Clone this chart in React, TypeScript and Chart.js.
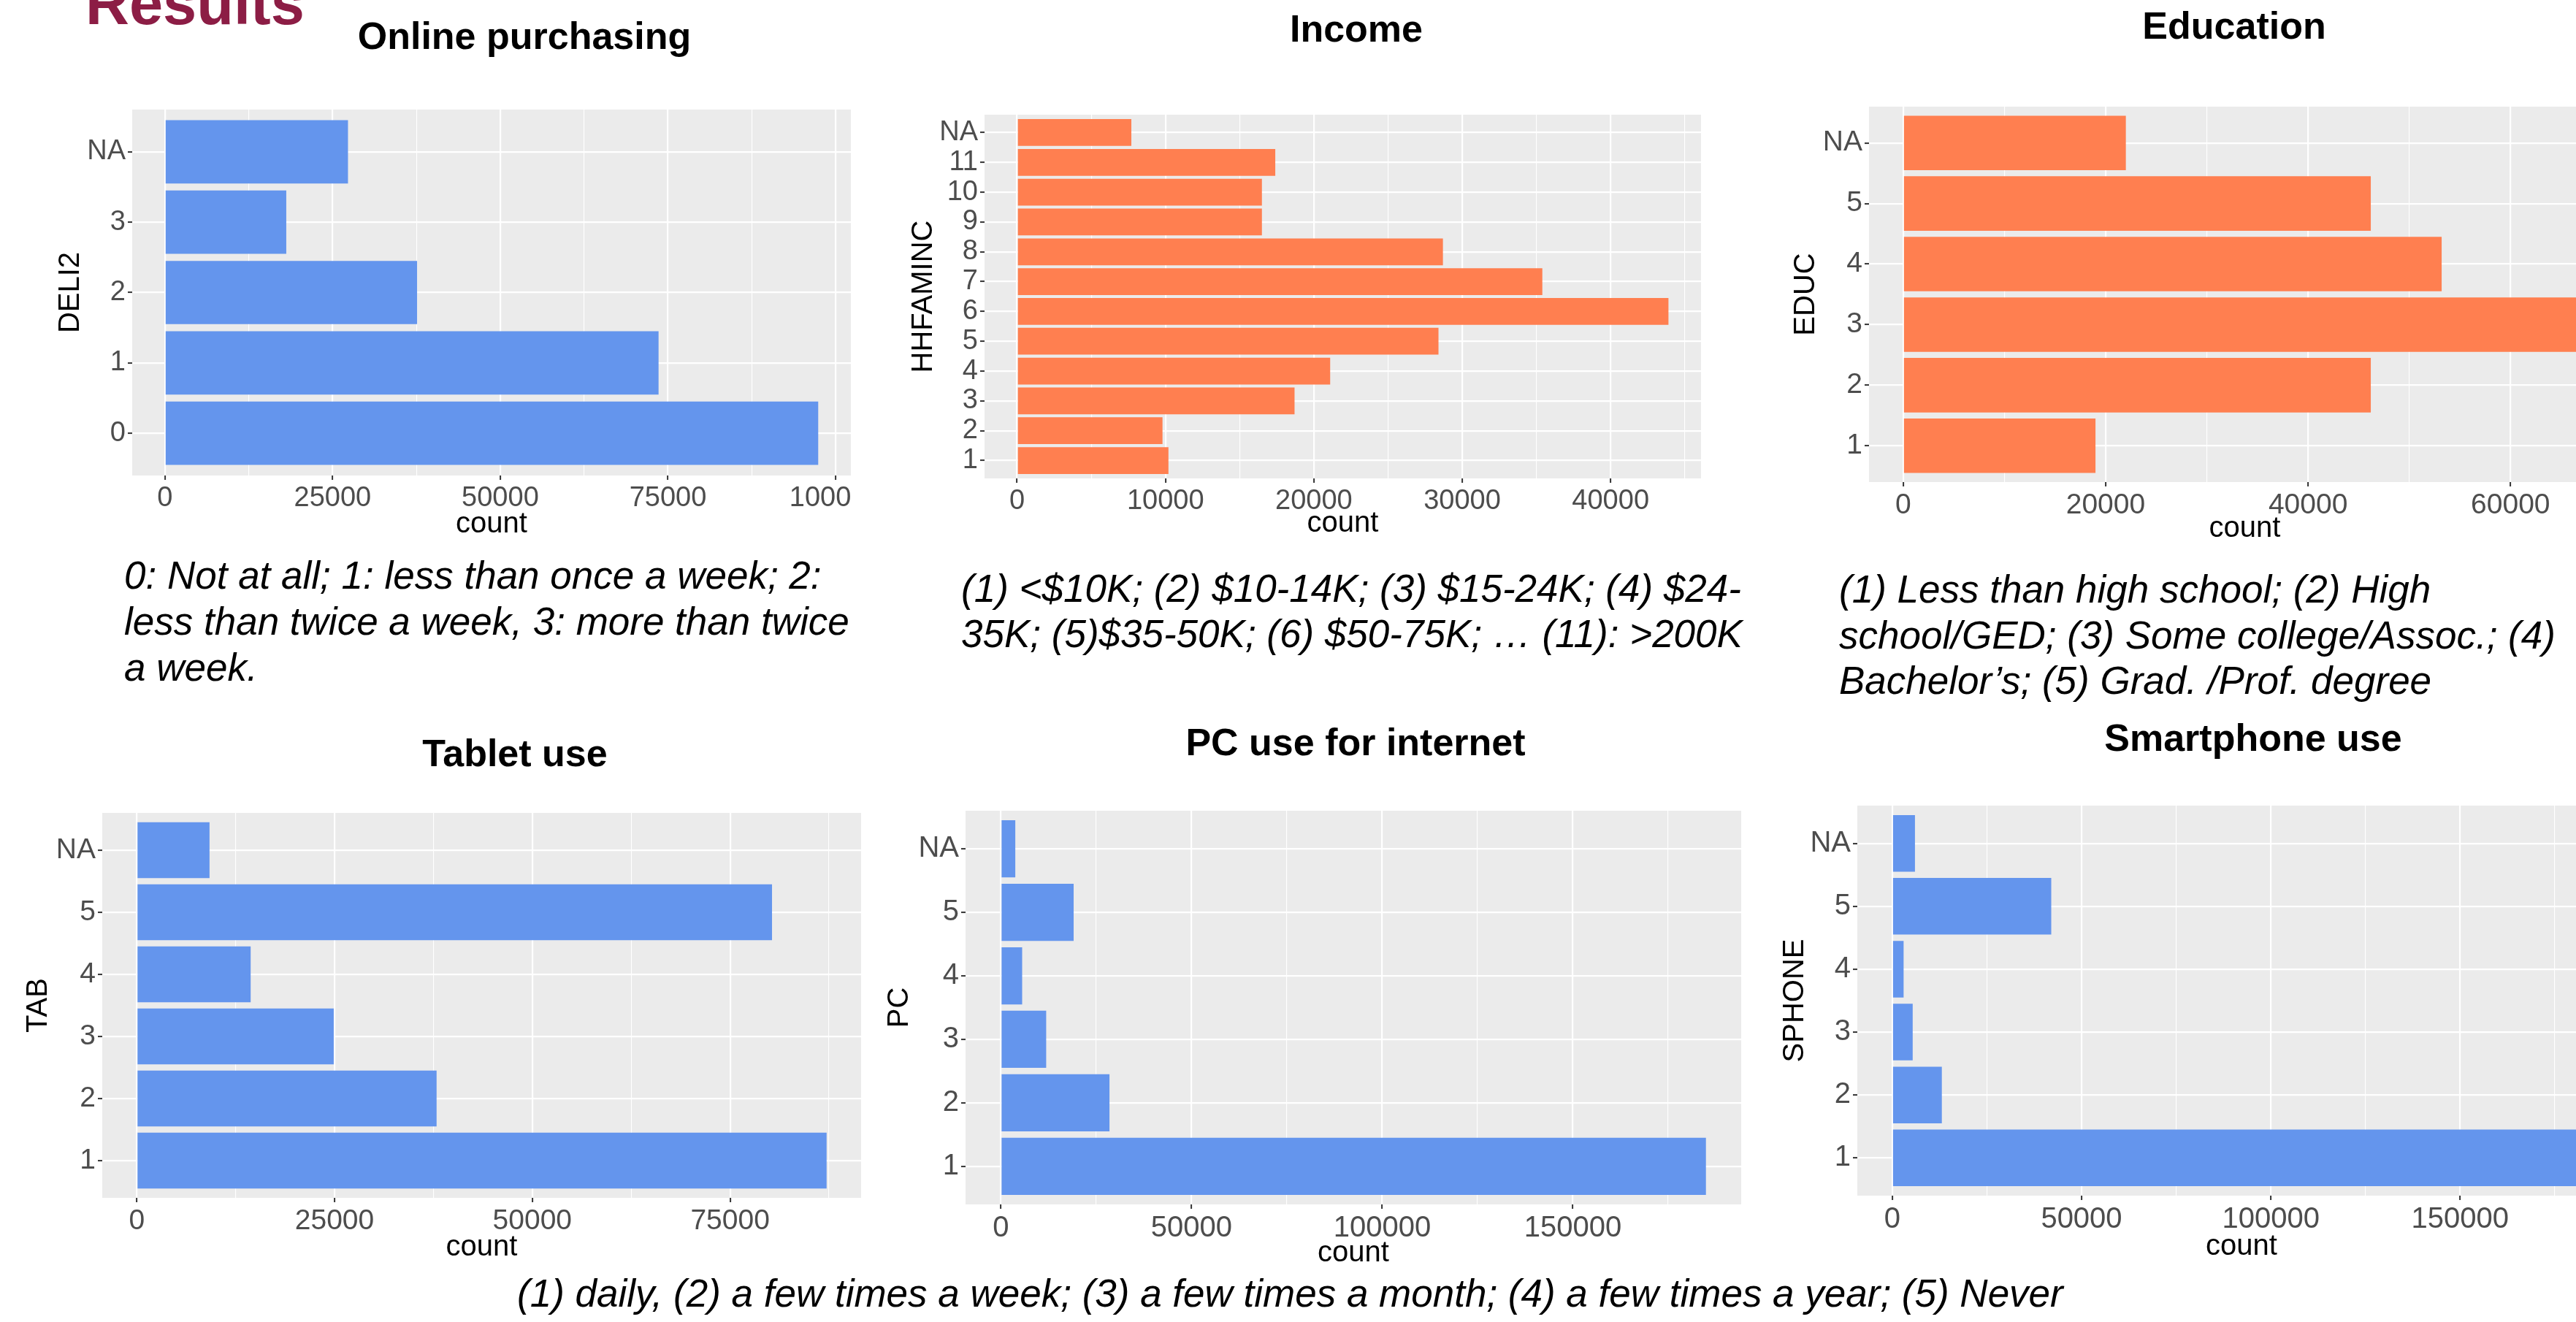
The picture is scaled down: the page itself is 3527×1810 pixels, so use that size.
import React, { useEffect, useRef } from 'react';
import { Chart, registerables } from 'chart.js';

Chart.register(...registerables);

// ---------------- data ----------------
const deliCategories = ['0', '1', '2', '3', 'NA'];
const deliCounts = [97400, 73600, 37600, 18100, 27300];
const deliTicks = [0, 25000, 50000, 75000, 100000];

const incomeCategories = ['1', '2', '3', '4', '5', '6', '7', '8', '9', '10', '11', 'NA'];
const incomeCounts = [10200, 9800, 18700, 21100, 28400, 43900, 35400, 28700, 16500, 16500, 17400, 7700];
const incomeTicks = [0, 10000, 20000, 30000, 40000];

const educCategories = ['1', '2', '3', '4', '5', 'NA'];
const educCounts = [19000, 46200, 67500, 53200, 46200, 22000];
const educTicks = [0, 20000, 40000, 60000];

const tabCategories = ['1', '2', '3', '4', '5', 'NA'];
const tabCounts = [87200, 37900, 24900, 14400, 80300, 9200];
const tabTicks = [0, 25000, 50000, 75000];

const pcCategories = ['1', '2', '3', '4', '5', 'NA'];
const pcCounts = [184900, 28500, 11900, 5600, 19100, 3800];
const pcTicks = [0, 50000, 100000, 150000];

const phoneCategories = ['1', '2', '3', '4', '5', 'NA'];
const phoneCounts = [184500, 13100, 5400, 3000, 42000, 6000];
const phoneTicks = [0, 50000, 100000, 150000];

const BLUE = '#6495ED';
const CORAL = '#FF7F50';
const FONT = "'Liberation Sans', Arial, Helvetica, sans-serif";

const panelBg = {
  id: 'panelBg',
  beforeDraw(chart: any) {
    const { ctx, chartArea } = chart;
    if (!chartArea) return;
    ctx.save();
    ctx.fillStyle = '#EBEBEB';
    ctx.fillRect(chartArea.left, chartArea.top, chartArea.right - chartArea.left, chartArea.bottom - chartArea.top);
    ctx.restore();
  },
};

type Spec = {
  axisTitle: string;
  categories: string[];
  counts: number[];
  ticks: number[];
  color: string;
  left: number;
  right: number;
  top: number;
  bottom: number;
  yTitleX: number;
  countBaseline: number;
  tickFont: number;
  clipRight?: number;
};

function HBar({ spec }: { spec: Spec }) {
  const ref = useRef<HTMLCanvasElement | null>(null);
  const padTop = 40;
  const padRight = 60;
  const canvasLeft = Math.round(spec.yTitleX - 24);
  const canvasTop = spec.top - padTop;
  const canvasBottom = Math.round(spec.countBaseline + 12);
  const width = spec.right + padRight - canvasLeft;
  const height = canvasBottom - canvasTop;
  const yAxisW = spec.left - canvasLeft;
  const xAxisH = canvasBottom - spec.bottom;
  const clipW = spec.clipRight ? spec.clipRight - canvasLeft : width;

  useEffect(() => {
    if (!ref.current) return;
    const maxV = Math.max(...spec.counts);
    const xMin = -0.05 * maxV;
    const xMax = 1.05 * maxV;
    const step = spec.ticks[1] - spec.ticks[0];
    const minors = spec.ticks.map((t) => t + step / 2).filter((v) => v > xMin && v < xMax);
    const allTicks = [...spec.ticks, ...minors].sort((a, b) => a - b);
    const isMajor = (v: number) => spec.ticks.includes(v);
    const n = spec.categories.length;

    const chart = new Chart(ref.current, {
      type: 'bar',
      data: {
        datasets: [
          {
            data: spec.counts.map((c, i) => ({ x: c, y: i + 1 })),
            backgroundColor: spec.color,
            borderWidth: 0,
            barPercentage: 0.9,
            categoryPercentage: 1,
          },
        ],
      },
      options: {
        indexAxis: 'y',
        animation: false,
        responsive: false,
        maintainAspectRatio: false,
        layout: { padding: { top: padTop, right: padRight, left: 0, bottom: 0 } },
        plugins: { legend: { display: false }, tooltip: { enabled: false }, title: { display: false } },
        scales: {
          x: {
            type: 'linear',
            min: xMin,
            max: xMax,
            bounds: 'data',
            offset: false,
            afterBuildTicks: (s: any) => {
              s.ticks = allTicks.map((v) => ({ value: v }));
            },
            afterFit: (s: any) => {
              s.height = xAxisH;
            },
            ticks: {
              autoSkip: false,
              maxRotation: 0,
              minRotation: 0,
              padding: 3,
              color: '#4D4D4D',
              font: { family: FONT, size: spec.tickFont },
              callback: (v: any) => (isMajor(Number(v)) ? String(v) : ''),
            },
            grid: {
              color: '#FFFFFF',
              lineWidth: (ctx: any) => (ctx.tick && isMajor(ctx.tick.value) ? 2.2 : 1.1),
              drawTicks: true,
              tickLength: 6,
              tickWidth: 2,
              tickColor: (ctx: any) => (ctx.tick && isMajor(ctx.tick.value) ? '#333333' : 'rgba(0,0,0,0)'),
              offset: false,
            },
            border: { display: false },
            title: { display: true, text: 'count', color: '#000000', font: { family: FONT, size: 40 }, padding: 0 },
          },
          y: {
            type: 'linear',
            min: 0.4,
            max: n + 0.6,
            bounds: 'data',
            offset: false,
            afterBuildTicks: (s: any) => {
              s.ticks = spec.categories.map((_, i) => ({ value: i + 1 }));
            },
            afterFit: (s: any) => {
              s.width = yAxisW;
            },
            ticks: {
              autoSkip: false,
              padding: 3,
              color: '#4D4D4D',
              font: { family: FONT, size: spec.tickFont },
              callback: (v: any) => spec.categories[Number(v) - 1] ?? '',
            },
            grid: {
              color: '#FFFFFF',
              lineWidth: 2.2,
              drawTicks: true,
              tickLength: 6,
              tickWidth: 2,
              tickColor: '#333333',
              offset: false,
            },
            border: { display: false },
            title: { display: true, text: spec.axisTitle, color: '#000000', font: { family: FONT, size: 40 }, padding: 0 },
          },
        },
      } as any,
      plugins: [panelBg],
    });
    return () => chart.destroy();
  }, []);

  return (
    <div style={{ position: 'absolute', left: canvasLeft, top: canvasTop, width: clipW, height, overflow: 'hidden' }}>
      <canvas ref={ref} width={width} height={height} style={{ width, height, display: 'block' }} />
    </div>
  );
}

const specs: Spec[] = [
  { axisTitle: 'DELI2', categories: deliCategories, counts: deliCounts, ticks: deliTicks, color: BLUE, left: 181, right: 1165, top: 150, bottom: 651, yTitleX: 97, countBaseline: 730, tickFont: 38, clipRight: 1166 },
  { axisTitle: 'HHFAMINC', categories: incomeCategories, counts: incomeCounts, ticks: incomeTicks, color: CORAL, left: 1348, right: 2329, top: 157, bottom: 655, yTitleX: 1265, countBaseline: 729, tickFont: 38 },
  { axisTitle: 'EDUC', categories: educCategories, counts: educCounts, ticks: educTicks, color: CORAL, left: 2559, right: 3588, top: 146, bottom: 660, yTitleX: 2473, countBaseline: 736, tickFont: 39 },
  { axisTitle: 'TAB', categories: tabCategories, counts: tabCounts, ticks: tabTicks, color: BLUE, left: 140, right: 1179, top: 1113, bottom: 1640, yTitleX: 53, countBaseline: 1720, tickFont: 39 },
  { axisTitle: 'PC', categories: pcCategories, counts: pcCounts, ticks: pcTicks, color: BLUE, left: 1322, right: 2384, top: 1110, bottom: 1649, yTitleX: 1232, countBaseline: 1728, tickFont: 40 },
  { axisTitle: 'SPHONE', categories: phoneCategories, counts: phoneCounts, ticks: phoneTicks, color: BLUE, left: 2543, right: 3595, top: 1103, bottom: 1637, yTitleX: 2458, countBaseline: 1719, tickFont: 40 },
];

const titleStyle = { fontFamily: FONT, fontWeight: 700, fontSize: 52 } as any;
const noteStyle = { fontFamily: FONT, fontStyle: 'italic', fontSize: 53 } as any;

export default function App() {
  return (
    <div style={{ position: 'fixed', left: 0, top: 0, width: 3527, height: 1810, overflow: 'hidden', background: '#FFFFFF' }}>
      {specs.map((s, i) => (
        <HBar key={i} spec={s} />
      ))}
      <svg width={3527} height={1810} style={{ position: 'absolute', left: 0, top: 0, pointerEvents: 'none' }}>
        <text x={117} y={33} fill="#8C1D45" style={{ fontFamily: FONT, fontWeight: 700, fontSize: 83 }}>Results</text>

        <text x={718} y={67} textAnchor="middle" style={titleStyle}>Online purchasing</text>
        <text x={1857} y={57} textAnchor="middle" style={titleStyle}>Income</text>
        <text x={3059} y={53} textAnchor="middle" style={titleStyle}>Education</text>
        <text x={705} y={1049} textAnchor="middle" style={titleStyle}>Tablet use</text>
        <text x={1856} y={1034} textAnchor="middle" style={titleStyle}>PC use for internet</text>
        <text x={3085} y={1028} textAnchor="middle" style={titleStyle}>Smartphone use</text>

        <text x={170} y={806} style={noteStyle}>0: Not at all; 1: less than once a week; 2:</text>
        <text x={170} y={869} style={noteStyle}>less than twice a week, 3: more than twice</text>
        <text x={170} y={932} style={noteStyle}>a week.</text>

        <text x={1316} y={824} style={noteStyle}>(1) &lt;$10K; (2) $10-14K; (3) $15-24K; (4) $24-</text>
        <text x={1316} y={886} style={noteStyle}>35K; (5)$35-50K; (6) $50-75K; … (11): &gt;200K</text>

        <text x={2518} y={825} style={noteStyle}>(1) Less than high school; (2) High</text>
        <text x={2518} y={888} style={noteStyle}>school/GED; (3) Some college/Assoc.; (4)</text>
        <text x={2518} y={950} style={noteStyle}>Bachelor’s; (5) Grad. /Prof. degree</text>

        <text x={708} y={1789} style={noteStyle}>(1) daily, (2) a few times a week; (3) a few times a month; (4) a few times a year; (5) Never</text>
      </svg>
    </div>
  );
}
